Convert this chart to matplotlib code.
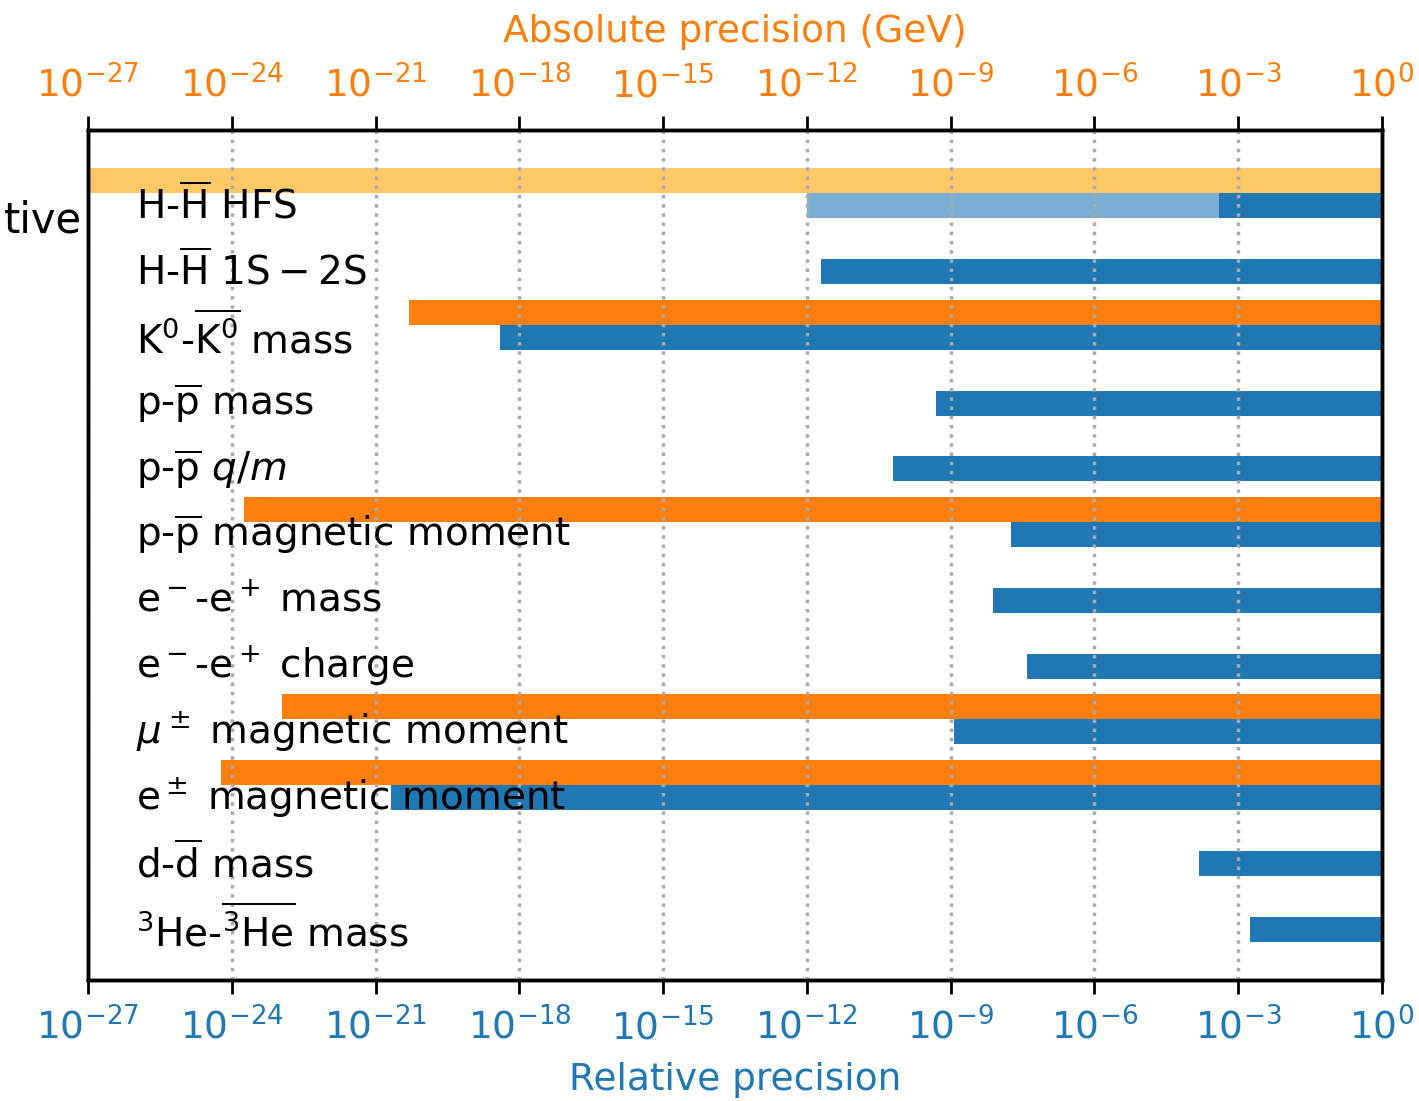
import numpy as np
import matplotlib
matplotlib.use("Agg")
import matplotlib.pyplot as plt

labels = [
    r'H-$\overline{\rm H}$ HFS',
    r'H-$\overline{\rm H}$ $\rm 1S-2S$',
    r'K$^0$-$\overline{\rm K^0}$ mass',
    r'p-$\overline{\rm p}$ mass',
    r'p-$\overline{\rm p}$ $q/m$',
    r'p-$\overline{\rm p}$ magnetic moment',
    r'e$^-$-e$^+$ mass',
    r'e$^-$-e$^+$ charge',
    r'$\mu^\pm$ magnetic moment',
    r'e$^\pm$ magnetic moment',
    r'd-$\overline{\rm d}$ mass',
    r'$^3$He-$\overline{^3{\rm He}}$ mass',
]
# relative precision (log10 of left end; bars extend to 1)
rel_log = [-3.4, -11.7, -18.4, -9.3, -10.2, -7.74, -8.12, -7.41, -8.93, -20.68, -3.82, -2.76]
# absolute precision (GeV), None where not shown
abs_log = [None, None, -20.3, None, None, -23.75, None, None, -22.95, -24.23, None, None]
# HFS projected ranges
hfs_rel_proj = -12.0
hfs_abs_proj = -27.0

BLUE = '#1f77b4'
ORANGE = '#ff7f0e'
LBLUE = '#7aaed3'
LORANGE = '#fec866'

fig = plt.figure(figsize=(14.19, 11.01), dpi=100)
ax = fig.add_axes([88/1419, 1-980/1101, (1382-88)/1419, (980-130)/1101])
ax.set_xscale('log')
xmax = 1.0
h = 0.38
for i in range(len(labels)):
    yb = i + 0.19
    yo = i - 0.19
    if i == 0:
        ax.barh(yo, xmax - 10**hfs_abs_proj, left=10**hfs_abs_proj, height=h, color=LORANGE, zorder=2)
        ax.barh(yb, xmax - 10**hfs_rel_proj, left=10**hfs_rel_proj, height=h, color=LBLUE, zorder=2)
    ax.barh(yb, xmax - 10**rel_log[i], left=10**rel_log[i], height=h, color=BLUE, zorder=2)
    if abs_log[i] is not None:
        ax.barh(yo, xmax - 10**abs_log[i], left=10**abs_log[i], height=h, color=ORANGE, zorder=2)
    ax.text(1e-26, yb, labels[i], fontsize=28, va='center', ha='left', zorder=5)

ax.set_xlim(1e-27, 1)
ax.set_ylim(11.96, -0.96)
ax.set_yticks([])
ticks = [10.0**k for k in range(-27, 1, 3)]
ax.set_xticks(ticks)
ax.xaxis.set_minor_locator(matplotlib.ticker.NullLocator())
ax.tick_params(axis='x', labelsize=27, length=10, width=2, color='black', labelcolor=BLUE, pad=10)
ax.grid(axis='x', linestyle=':', color='#aaaaaa', linewidth=2.5, zorder=3)
ax.set_axisbelow(False)
for s in ax.spines.values():
    s.set_linewidth(2.5)

ax2 = ax.twiny()
ax2.set_xscale('log')
ax2.set_xlim(1e-27, 1)
ax2.set_xticks(ticks)
ax2.xaxis.set_minor_locator(matplotlib.ticker.NullLocator())
ax2.tick_params(axis='x', labelsize=27, length=10, width=2, color='black', labelcolor=ORANGE, pad=8)
for s in ax2.spines.values():
    s.set_linewidth(2.5)

fig.text(735/1419, 1-32/1101, 'Absolute precision (GeV)', color=ORANGE, fontsize=27, ha='center', va='center')
fig.text(735/1419, 1-1080/1101, 'Relative precision', color=BLUE, fontsize=27, ha='center', va='center')
fig.text(82/1419, 1-220/1101, 'tive', fontsize=30, ha='right', va='center')

fig.savefig('out.png', dpi=100)
